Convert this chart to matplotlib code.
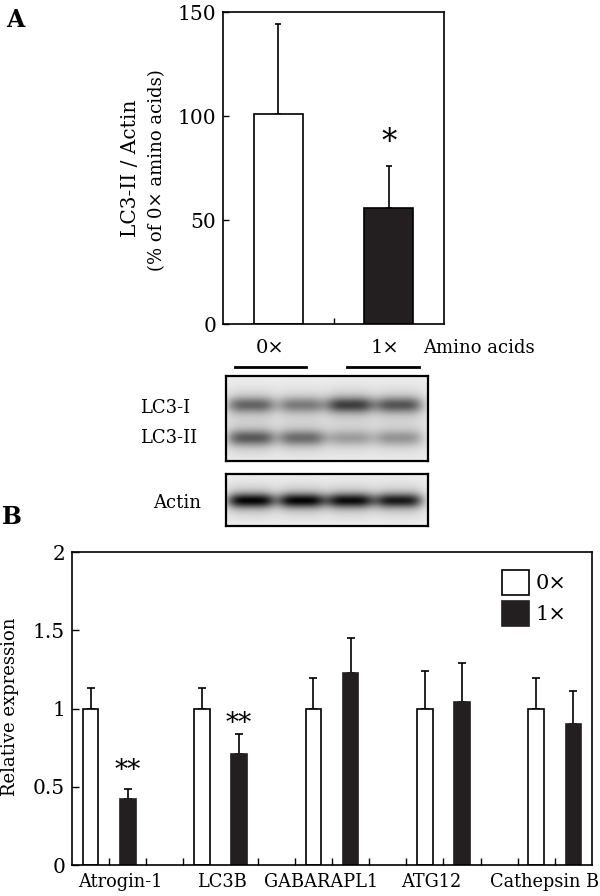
import matplotlib.pyplot as plt
import numpy as np
from matplotlib.lines import Line2D

plt.rcParams['font.family'] = ['DejaVu Serif', 'DejaVu Sans']

# panel A data
a_groups = ['0×', '1×']
a_mean = [101, 56]
a_err = [43, 20]

# western blot band strengths (lanes 1-4), 0 = none, 1 = black
lc3_1_bands = [0.55, 0.45, 0.72, 0.62]
lc3_2_bands = [0.60, 0.52, 0.30, 0.34]
actin_bands = [0.97, 0.97, 0.94, 0.88]

# panel B data
b_genes = ['Atrogin-1', 'LC3B', 'GABARAPL1', 'ATG12', 'Cathepsin B']
b_ctrl = [1.0, 1.0, 1.0, 1.0, 1.0]
b_ctrl_err = [0.13, 0.13, 0.195, 0.237, 0.197]
b_aa = [0.424, 0.707, 1.229, 1.042, 0.903]
b_aa_err = [0.06, 0.13, 0.221, 0.247, 0.209]
b_sig = ['**', '**', '', '', '']

W, H = 600, 896
fig = plt.figure(figsize=(W / 100, H / 100), dpi=100)
BLK = '#231f20'


def box(x0, y0, x1, y1):
    # pixel box -> figure fraction rect
    return [x0 / W, 1 - y1 / H, (x1 - x0) / W, (y1 - y0) / H]


def fx(x):
    return x / W


def fy(y):
    return 1 - y / H


# ---------------- panel A ----------------
axA = fig.add_axes(box(223, 12, 444, 324))
xa = np.arange(len(a_groups))
axA.bar(xa, a_mean, width=0.445, color=['white', BLK], edgecolor='black', linewidth=1.2, zorder=2)
axA.errorbar(xa, a_mean, yerr=[np.zeros(2), a_err], fmt='none', ecolor='black',
             elinewidth=1.2, capsize=2, capthick=1.2, zorder=1)
axA.set_xlim(-0.5, 1.5)
axA.set_ylim(0, 150)
axA.set_yticks([0, 50, 100, 150])
axA.set_xticks([0.5])
axA.set_xticklabels([''])
axA.tick_params(direction='in', length=4, width=1, labelsize=14.5, pad=5)
for s in axA.spines.values():
    s.set_linewidth(1.2)
axA.text(1, a_mean[1] + a_err[1] + 4, '*', ha='center', va='bottom', fontsize=22)
fig.text(fx(131), fy(168), 'LC3-II / Actin', rotation=90, ha='center', va='center', fontsize=14.5)
fig.text(fx(157), fy(170), '(% of 0× amino acids)', rotation=90, ha='center', va='center', fontsize=13)
fig.text(fx(15), fy(20), 'A', fontsize=17, fontweight='bold', ha='center', va='center')

# group labels above the blot
fig.text(fx(270), fy(348), '0×', ha='center', va='center', fontsize=14)
fig.text(fx(385), fy(348), '1×', ha='center', va='center', fontsize=14)
fig.text(fx(423), fy(348), 'Amino acids', ha='left', va='center', fontsize=13)
fig.add_artist(Line2D([fx(235), fx(306)], [fy(367), fy(367)], color='black', lw=2))
fig.add_artist(Line2D([fx(347), fx(419)], [fy(367), fy(367)], color='black', lw=2))


# ---------------- blot ----------------
def blot(ax, rows, bands_list, sy, bg=0.94):
    nx, ny = 400, 200
    xx = np.linspace(0, 1, nx)
    yy = np.linspace(0, 1, ny)
    X, Y = np.meshgrid(xx, yy)
    img = np.full((ny, nx), bg)
    lanes = [0.125, 0.375, 0.615, 0.855]
    for yc, bands in zip(rows, bands_list):
        core = 0.8 * np.exp(-((Y - yc) / sy) ** 2) + 0.2 * np.exp(-((Y - yc) / (2.2 * sy)) ** 2)
        for lc, v in zip(lanes, bands):
            img -= v * 0.9 * np.exp(-((X - lc) / 0.118) ** 4) * core
        img -= 0.05 * np.exp(-((Y - yc) / (2.5 * sy)) ** 2)
    ax.imshow(np.clip(img, 0, 1), cmap='gray', vmin=0, vmax=1, aspect='auto',
              interpolation='bilinear', extent=[0, 1, 1, 0])
    ax.set_xticks([])
    ax.set_yticks([])
    for s in ax.spines.values():
        s.set_linewidth(1.6)


axB1 = fig.add_axes(box(226, 376, 428, 461))
blot(axB1, [0.34, 0.73], [lc3_1_bands, lc3_2_bands], 0.09)
axB2 = fig.add_axes(box(226, 474, 428, 526))
blot(axB2, [0.52], [actin_bands], 0.13)
fig.text(fx(140), fy(408), 'LC3-I', ha='left', va='center', fontsize=13)
fig.text(fx(140), fy(438), 'LC3-II', ha='left', va='center', fontsize=13)
fig.text(fx(177), fy(503), 'Actin', ha='center', va='center', fontsize=13)

# ---------------- panel B ----------------
axC = fig.add_axes(box(72, 552, 592, 865))
xw = np.arange(len(b_genes)) * 3 + 0.5
xb = xw + 1
axC.bar(xw, b_ctrl, width=0.42, color='white', edgecolor='black', linewidth=1.2, label='0×', zorder=2)
axC.bar(xb, b_aa, width=0.42, color=BLK, edgecolor=BLK, linewidth=1.2, label='1×', zorder=2)
axC.errorbar(xw, b_ctrl, yerr=[np.zeros(5), b_ctrl_err], fmt='none', ecolor='black',
             elinewidth=1.2, capsize=3, capthick=1.2, zorder=1)
axC.errorbar(xb, b_aa, yerr=[np.zeros(5), b_aa_err], fmt='none', ecolor='black',
             elinewidth=1.2, capsize=3, capthick=1.2, zorder=1)
sig_gap = [0.12, 0.065, 0, 0, 0]
for x, m, e, s, g in zip(xb, b_aa, b_aa_err, b_sig, sig_gap):
    if s:
        axC.text(x, m + e + g, s, ha='center', va='center', fontsize=19)
axC.set_xlim(0, 14)
axC.set_ylim(0, 2)
axC.set_yticks([0, 0.5, 1, 1.5, 2])
axC.set_yticklabels(['0', '0.5', '1', '1.5', '2'])
axC.set_xticks([1.3, 4.04, 6.7, 9.66, 12.73])
axC.set_xticklabels(b_genes)
axC.set_xticks([1, 2, 3, 5, 6, 7, 8, 9, 10, 11, 12, 13], minor=True)
axC.tick_params(axis='x', which='major', length=0, labelsize=12.8, pad=6)
axC.tick_params(axis='x', which='minor', direction='in', length=5, width=1)
axC.tick_params(axis='y', direction='in', length=5, width=1, labelsize=14.5, pad=5)
for s in axC.spines.values():
    s.set_linewidth(1.2)
axC.legend(loc='upper left', bbox_to_anchor=(0.827, 0.942), frameon=False, fontsize=15,
           handlelength=1.3, handleheight=1.45, handletextpad=0.3, labelspacing=0.3,
           borderpad=0, borderaxespad=0)
fig.text(fx(10), fy(707), 'Relative expression', rotation=90, ha='center', va='center', fontsize=13)
fig.text(fx(12), fy(517), 'B', fontsize=17, fontweight='bold', ha='center', va='center')

fig.savefig('out.png', dpi=100)
